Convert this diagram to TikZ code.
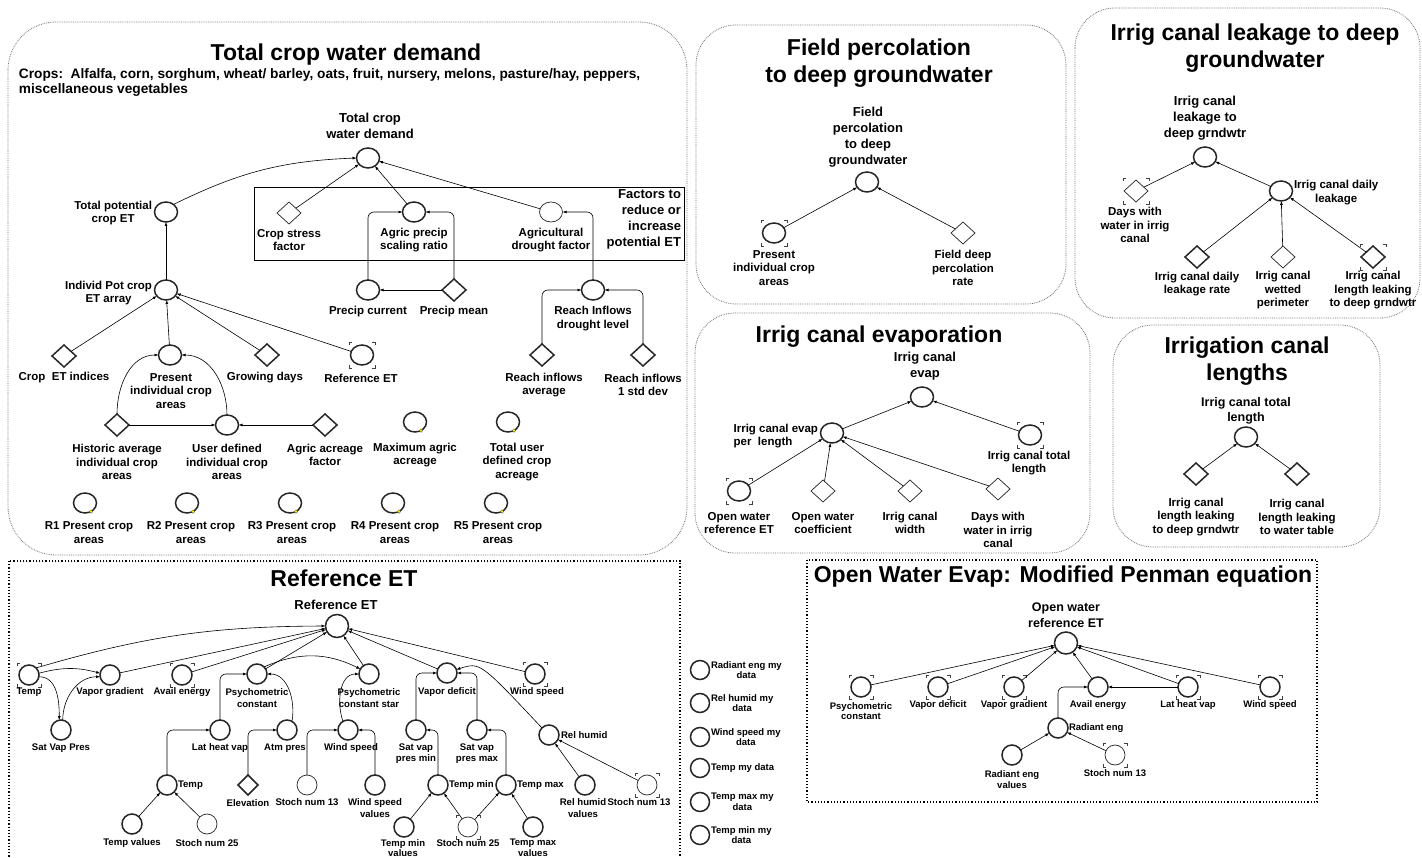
\documentclass[tikz,border=0pt]{standalone}
\usepackage{fontspec}
\setmainfont{Liberation Sans}
\usetikzlibrary{arrows.meta,shapes.geometric}
% corner ticks drawn round a node: optional half size, node name
\newcommand\corners[2][13]{\foreach \sx/\sy in {1/1,1/-1,-1/1,-1/-1}{\draw[line width=0.6pt,black!75] (#2.center) ++({\sx*#1},{\sy*(#1-3)}) -- ++(0,{3*\sy}) -- ++({-3*\sx},0);}}
% small yellow marker on the rim of a node
\newcommand\ydot[1]{\filldraw[fill=yellow!95!orange,draw=black!70,line width=0.3pt] (#1.-55) circle (1.8pt);}
\begin{document}
\begin{tikzpicture}[x=1pt,y=1pt,
  every node/.style={inner sep=0pt,outer sep=0pt},
  ttl/.style={font=\bfseries\fontsize{23}{27}\selectfont,align=center},
  lab/.style={font=\bfseries\fontsize{11.5}{13.5}\selectfont,align=center},
  labm/.style={font=\bfseries\fontsize{13}{16}\selectfont,align=center},
  labs/.style={font=\bfseries\fontsize{9.6}{11.3}\selectfont,align=center},
  labt/.style={font=\bfseries\fontsize{9.5}{10.5}\selectfont,align=center},
  var/.style={ellipse,draw=black!85,line width=1.5pt,minimum width=23pt,minimum height=20pt},
  varthin/.style={var,line width=0.7pt},
  cvar/.style={circle,draw=black!85,line width=1.5pt,minimum size=20pt},
  cvarthin/.style={cvar,line width=0.7pt},
  con/.style={diamond,draw=black!85,line width=1.5pt,minimum width=24pt,minimum height=22pt},
  conthin/.style={con,line width=0.7pt},
  ar/.style={-{Latex[length=4pt,width=3pt]},line width=0.6pt},
  elbow/.style={ar,rounded corners=6pt},
  panel/.style={draw=black!55,densely dotted,line width=0.8pt,rounded corners=40pt},
  dbox/.style={draw=black,dotted,line width=1.2pt},
]
\useasboundingbox (0,0) rectangle (1422,-858);
\fill[white] (0,0) rectangle (1422,-858);
\clip (0,0) rectangle (1422,-858);

% ---------- panel frames ----------
\draw[panel,rounded corners=48pt] (8,-22) rectangle (687,-555);
\draw[panel] (696,-25) rectangle (1066,-304);
\draw[panel] (1075,-8) rectangle (1420,-318);
\draw[panel] (695,-313) rectangle (1090,-553);
\draw[panel] (1113,-325) rectangle (1380,-547);
\draw[dbox] (9,-561) rectangle (680,-880);
\draw[dbox] (807,-560) rectangle (1317,-802);

% ---------- Total crop water demand ----------
\node[ttl] (tA) at (346,-55) {Total crop water demand};
\node[font=\bfseries\fontsize{13.7}{15}\selectfont,align=left,anchor=west] (crops) at (19,-82.5)
  {Crops:\ \ Alfalfa, corn, sorghum, wheat/ barley, oats, fruit, nursery, melons, pasture/hay, peppers,\\miscellaneous vegetables};
\draw[line width=0.8pt] (254,-187) rectangle (684,-260);
\node[labm,align=right,anchor=north east] (factors) at (681,-190)
  {Factors to\\reduce or\\increase\\potential ET};

\node[var] (tcwd) at (368,-158) {};
\node[labm] (tcwd-l) at (370,-126) {Total crop\\water demand};
\node[var] (tpet) at (166,-212) {};
\node[lab,anchor=east] (tpet-l) at (152,-213) {Total potential\\crop ET};
\node[conthin] (csf) at (289,-213) {};
\node[lab] (csf-l) at (289,-240) {Crop stress\\factor};
\node[var] (apsr) at (414,-212) {};
\node[lab] (apsr-l) at (414,-240) {Agric precip\\scaling ratio};
\node[varthin] (adf) at (551,-212) {};
\node[lab] (adf-l) at (551,-240) {Agricultural\\drought factor};
\node[var] (ipet) at (166,-290) {};
\node[lab,anchor=east] (ipet-l) at (152,-293) {Individ Pot crop\\ET array};
\node[var] (pc) at (368,-290) {};
\node[lab] (pc-l) at (368,-312) {Precip current};
\node[con] (pm) at (454,-290) {};
\node[lab] (pm-l) at (454,-312) {Precip mean};
\node[var] (rid) at (593,-290) {};
\node[lab] (rid-l) at (593,-318.5) {Reach Inflows\\drought level};
\node[con] (cei) at (64,-356) {};
\node[lab] (cei-l) at (64,-378) {Crop\ \ ET indices};
\node[var] (pica) at (170,-355) {};
\node[lab] (pica-l) at (171,-391) {Present\\individual crop\\areas};
\node[con] (gd) at (267,-355) {};
\node[lab] (gd-l) at (265,-378) {Growing days};
\node[var] (ret) at (362,-355) {};
\corners{ret}
\node[lab] (ret-l) at (361,-378) {Reference ET};
\node[con] (ria) at (542,-355) {};
\node[lab] (ria-l) at (544,-385) {Reach inflows\\average};
\node[con] (ris) at (643,-355) {};
\node[lab] (ris-l) at (643,-385) {Reach inflows\\1 std dev};
\node[con] (haica) at (117,-425) {};
\node[lab] (haica-l) at (117,-462) {Historic average\\individual crop\\areas};
\node[var] (udica) at (227,-425) {};
\node[lab] (udica-l) at (227,-462) {User defined\\individual crop\\areas};
\node[con] (aaf) at (325,-425) {};
\node[lab] (aaf-l) at (325,-455) {Agric acreage\\factor};
\node[var] (maa) at (415,-422) {};
\ydot{maa}
\node[lab] (maa-l) at (415,-455) {Maximum agric\\acreage};
\node[var] (tudca) at (508,-422) {};
\ydot{tudca}
\node[lab] (tudca-l) at (517,-462) {Total user\\defined crop\\acreage};
\foreach \i/\x/\lx in {1/85/89,2/187/191,3/290/292,4/393/395,5/496/498}{
  \node[var] (r\i) at (\x,-503) {};
  \ydot{r\i}
  \node[lab] (r\i-l) at (\lx,-532.5) {R\i\ Present crop\\areas};
}

\draw[ar] (tpet.45) to[bend left=12] (tcwd.west);
\draw[ar] (csf) -- (tcwd);
\draw[ar] (apsr) -- (tcwd);
\draw[ar] (adf) -- (tcwd);
\draw[ar] (ipet) -- (tpet);
\draw[elbow] (pc.north) |- (apsr.west);
\draw[elbow] (pm.north) |- (apsr.east);
\draw[ar] (pm) -- (pc);
\draw[elbow] (rid.north) |- (adf.east);
\draw[elbow] (ria.north) |- (rid.west);
\draw[elbow] (ris.north) |- (rid.east);
\draw[ar] (cei) -- (ipet);
\draw[ar] (pica) -- (ipet);
\draw[ar] (gd) -- (ipet);
\draw[ar] (ret) -- (ipet);
\draw[ar] (haica.north) to[out=90,in=180] (pica.west);
\draw[ar] (udica.north) to[out=90,in=0] (pica.east);
\draw[ar] (haica) -- (udica);
\draw[ar] (aaf) -- (udica);

% ---------- Field percolation ----------
\node[ttl] (tB) at (879,-63.5) {Field percolation\\to deep groundwater};
\node[var] (fpdg) at (867,-182) {};
\node[labm] (fpdg-l) at (868,-137) {Field\\percolation\\to deep\\groundwater};
\node[var] (pica2) at (774,-233) {};
\corners{pica2}
\node[lab] (pica2-l) at (774,-268) {Present\\individual crop\\areas};
\node[conthin] (fdpr) at (963,-233) {};
\node[lab] (fdpr-l) at (963,-268) {Field deep\\percolation\\rate};
\draw[ar] (pica2) -- (fpdg);
\draw[ar] (fdpr) -- (fpdg);

% ---------- Irrig canal leakage ----------
\node[ttl] (tC) at (1255,-48.5) {Irrig canal leakage to deep\\groundwater};
\node[var] (icl) at (1205,-157) {};
\node[labm] (icl-l) at (1205,-118.5) {Irrig canal\\leakage to\\deep grndwtr};
\node[conthin] (dwic) at (1136,-191) {};
\corners{dwic}
\node[lab] (dwic-l) at (1135,-225) {Days with\\water in irrig\\canal};
\node[var] (icdl) at (1281,-191) {};
\node[lab,anchor=west] (icdl-l) at (1294,-192.5) {Irrig canal daily\\leakage};
\node[con] (icdlr) at (1197,-257) {};
\node[lab] (icdlr-l) at (1197,-284) {Irrig canal daily\\leakage rate};
\node[conthin] (icwp) at (1283,-257) {};
\node[lab] (icwp-l) at (1283,-290.5) {Irrig canal\\wetted\\perimeter};
\node[con] (icll) at (1373,-257) {};
\corners{icll}
\node[lab] (icll-l) at (1373,-290.5) {Irrig canal\\length leaking\\to deep grndwtr};
\draw[ar] (dwic) -- (icl);
\draw[ar] (icdl) -- (icl);
\draw[ar] (icdlr) -- (icdl);
\draw[ar] (icwp) -- (icdl);
\draw[ar] (icll) -- (icdl);

% ---------- Irrig canal evaporation ----------
\node[ttl] (tD) at (879,-337) {Irrig canal evaporation};
\node[var] (ice) at (922,-397) {};
\node[labm] (ice-l) at (925,-366) {Irrig canal\\evap};
\node[var] (icepl) at (832,-433) {};
\node[lab,anchor=east,align=left] (icepl-l) at (818,-436) {Irrig canal evap\\per\ \ length};
\node[var] (ictl) at (1030,-435) {};
\corners{ictl}
\node[lab] (ictl-l) at (1029,-463) {Irrig canal total\\length};
\node[var] (owre) at (739,-491) {};
\corners{owre}
\node[lab] (owre-l) at (739,-523) {Open water\\reference ET};
\node[conthin] (owc) at (823,-491) {};
\node[lab] (owc-l) at (823,-523) {Open water\\coefficient};
\node[conthin] (icw) at (910,-491) {};
\node[lab] (icw-l) at (910,-523) {Irrig canal\\width};
\node[conthin] (dwic2) at (998,-489) {};
\node[lab] (dwic2-l) at (998,-530) {Days with\\water in irrig\\canal};
\draw[ar] (icepl) -- (ice);
\draw[ar] (ictl) -- (ice);
\draw[ar] (owre) -- (icepl);
\draw[ar] (owc) -- (icepl);
\draw[ar] (icw) -- (icepl);
\draw[ar] (dwic2) -- (icepl);

% ---------- Irrigation canal lengths ----------
\node[ttl] (tE) at (1247,-361) {Irrigation canal\\lengths};
\node[var] (ictl2) at (1246,-437) {};
\node[labm,font=\bfseries\fontsize{12.5}{15}\selectfont] (ictl2-l) at (1246,-410.5) {Irrig canal total\\length};
\node[con] (icld) at (1196,-474) {};
\node[lab] (icld-l) at (1196,-517) {Irrig canal\\length leaking\\to deep grndwtr};
\node[con] (iclw) at (1297,-474) {};
\node[lab] (iclw-l) at (1297,-517) {Irrig canal\\length leaking\\to water table};
\draw[ar] (icld) -- (ictl2);
\draw[ar] (iclw) -- (ictl2);

% ---------- Reference ET ----------
\node[ttl] (tF) at (344,-578) {Reference ET};
\node[cvar,minimum size=23pt] (retF) at (337,-626) {};
\node[labm] (retF-l) at (336,-605) {Reference ET};
\node[cvar] (tempF) at (29,-675) {};
\corners[12]{tempF}
\node[labs] (tempF-l) at (29,-692) {Temp};
\node[cvar] (vg) at (110,-675) {};
\node[labs] (vg-l) at (110,-692) {Vapor gradient};
\node[cvar] (ae) at (182,-675) {};
\corners[12]{ae}
\node[labs] (ae-l) at (182,-692) {Avail energy};
\node[cvar] (psc) at (257,-674) {};
\node[labs] (psc-l) at (257,-698) {Psychometric\\constant};
\node[cvar] (pscs) at (369,-674) {};
\node[labs] (pscs-l) at (369,-698) {Psychometric\\constant star};
\node[cvar] (vd) at (447,-673) {};
\node[labs] (vd-l) at (447,-692) {Vapor deficit};
\node[cvar] (ws) at (535,-674) {};
\corners[12]{ws}
\node[labs] (ws-l) at (537,-692) {Wind speed};
\node[cvar] (svp) at (61,-730) {};
\node[labs] (svp-l) at (61,-748) {Sat Vap Pres};
\node[cvar] (lhv) at (220,-730) {};
\node[labs] (lhv-l) at (220,-748) {Lat heat vap};
\node[cvar] (ap) at (287,-730) {};
\node[labs] (ap-l) at (285,-748) {Atm pres};
\node[cvar] (ws2) at (348,-730) {};
\node[labs] (ws2-l) at (351,-748) {Wind speed};
\node[cvar] (svpmin) at (416,-730) {};
\node[labs] (svpmin-l) at (416,-753.5) {Sat vap\\pres min};
\node[cvar] (svpmax) at (477,-730) {};
\node[labs] (svpmax-l) at (477,-753.5) {Sat vap\\pres max};
\node[cvar] (rh) at (549,-735) {};
\node[labs,anchor=west] (rh-l) at (561,-735) {Rel humid};
\node[cvar] (t3) at (167,-785) {};
\node[labs,anchor=west] (t3-l) at (178,-785) {Temp};
\node[con,minimum width=20pt,minimum height=20pt] (el) at (248,-785) {};
\node[labs] (el-l) at (248,-803) {Elevation};
\node[cvarthin] (sn13) at (307,-785) {};
\node[labs] (sn13-l) at (307,-802) {Stoch num 13};
\node[cvar] (wsv) at (375,-785) {};
\node[labs] (wsv-l) at (375,-808) {Wind speed\\values};
\node[cvar] (tmin) at (438,-785) {};
\node[labs,anchor=west] (tmin-l) at (449,-785) {Temp min};
\node[cvar] (tmax) at (506,-785) {};
\node[labs,anchor=west] (tmax-l) at (517,-785) {Temp max};
\node[cvar] (rhv) at (585,-785) {};
\node[labs] (rhv-l) at (583,-808) {Rel humid\\values};
\node[cvarthin] (sn13b) at (647,-785) {};
\corners[12]{sn13b}
\node[labs] (sn13b-l) at (639,-802) {Stoch num 13};
\node[cvar] (tv) at (132,-824) {};
\node[labs] (tv-l) at (132,-843) {Temp values};
\node[cvarthin] (sn25a) at (207,-824) {};
\node[labs] (sn25a-l) at (207,-843) {Stoch num 25};
\node[cvar] (tminv) at (404,-827) {};
\node[labs,font=\bfseries\fontsize{9.5}{10.5}\selectfont] (tminv-l) at (403,-848) {Temp min\\values};
\node[cvarthin] (sn25b) at (468,-827) {};
\corners[12]{sn25b}
\node[labs] (sn25b-l) at (468,-843) {Stoch num 25};
\node[cvar] (tmaxv) at (533,-827) {};
\node[labs,font=\bfseries\fontsize{9.5}{10.5}\selectfont] (tmaxv-l) at (533,-848) {Temp max\\values};

\draw[ar] (tempF.45) to[bend left=8] (retF.west);
\draw[ar] (tempF.10) to[bend left=15] (vg.170);
\draw[ar] (tempF.-10) to[out=0,in=90] (svp.100);
\draw[ar] (svp.80) to[out=90,in=180] (vg.190);
\draw[ar] (vg) -- (retF);
\draw[ar] (ae) -- (retF);
\draw[ar] (psc) -- (retF);
\draw[ar] (pscs) -- (retF);
\draw[ar] (vd) -- (retF);
\draw[ar] (ws) -- (retF);
\draw[ar] (psc.45) to[bend left=25] (pscs.150);
\draw[elbow] (lhv.north) |- (psc.west);
\draw[ar] (ap.60) to[out=80,in=0] (psc.east);
\draw[elbow] (el.north) |- (ap.west);
\draw[elbow] (sn13.north) |- (ws2.west);
\draw[elbow] (wsv.north) |- (ws2.east);
\draw[ar] (ws2.120) to[out=110,in=180] (pscs.west);
\draw[elbow] (svpmin.north) |- (vd.west);
\draw[elbow] (svpmax.north) |- (vd.east);
\draw[ar] (rh.135) .. controls (480,-662) .. (vd.20);
\draw[elbow] (tmin.north) |- (svpmin.east);
\draw[elbow] (tmax.north) |- (svpmax.east);
\draw[ar] (tminv) -- (tmin);
\draw[ar] (sn25b) -- (tmin);
\draw[ar] (sn25b) -- (tmax);
\draw[ar] (tmaxv) -- (tmax);
\draw[ar] (rhv) -- (rh);
\draw[ar] (sn13b) -- (rh);
\draw[elbow] (t3.north) |- (lhv.west);
\draw[ar] (tv) -- (t3);
\draw[ar] (sn25a) -- (t3);

% ---------- user data inputs ----------
\foreach \n/\y/\t in {md1/670/{Radiant eng my\\data},md2/703/{Rel humid my\\data},md3/737/{Wind speed my\\data},md4/768/{Temp my data},md5/802/{Temp max my\\data},md6/835/{Temp min my\\data}}{
  \node[cvar,minimum size=19pt] (\n) at (700,-\y) {};
  \node[labt,anchor=west] (\n-l) at (711,-\y) {\t};
}

% ---------- Open water evaporation ----------
\node[ttl] (tG) at (1063,-577) {Open Water Evap: Modified Penman equation};
\node[var,minimum width=23pt,minimum height=22pt] (owr) at (1066,-643) {};
\node[labm,font=\bfseries\fontsize{12.5}{16}\selectfont] (owr-l) at (1066,-615) {Open water\\reference ET};
\node[cvar] (psc2) at (861,-687) {};
\corners[12]{psc2}
\node[labt] (psc2-l) at (861,-711) {Psychometric\\constant};
\node[cvar] (vd2) at (938,-687) {};
\corners[12]{vd2}
\node[labt] (vd2-l) at (938,-705) {Vapor deficit};
\node[cvar] (vg2) at (1014,-687) {};
\corners[12]{vg2}
\node[labt] (vg2-l) at (1014,-705) {Vapor gradient};
\node[cvar] (ae2) at (1098,-687) {};
\node[labt] (ae2-l) at (1098,-705) {Avail energy};
\node[cvar] (lhv2) at (1188,-687) {};
\corners[12]{lhv2}
\node[labt] (lhv2-l) at (1188,-705) {Lat heat vap};
\node[cvar] (ws3) at (1270,-687) {};
\corners[12]{ws3}
\node[labt] (ws3-l) at (1270,-705) {Wind speed};
\node[cvar] (re) at (1058,-728) {};
\node[labt,anchor=west] (re-l) at (1069,-728) {Radiant eng};
\node[cvar] (rev) at (1012,-755) {};
\node[labt] (rev-l) at (1012,-779.5) {Radiant eng\\values};
\node[cvarthin] (sn13c) at (1115,-755) {};
\corners[12]{sn13c}
\node[labt] (sn13c-l) at (1115,-773) {Stoch num 13};
\draw[ar] (psc2) -- (owr);
\draw[ar] (vd2) -- (owr);
\draw[ar] (vg2) -- (owr);
\draw[ar] (ae2) -- (owr);
\draw[ar] (lhv2) -- (owr);
\draw[ar] (ws3) -- (owr);
\draw[ar] (lhv2) -- (ae2);
\draw[elbow] (re.north) |- (ae2.west);
\draw[ar] (rev) -- (re);
\draw[ar] (sn13c) -- (re);
\end{tikzpicture}
\end{document}
